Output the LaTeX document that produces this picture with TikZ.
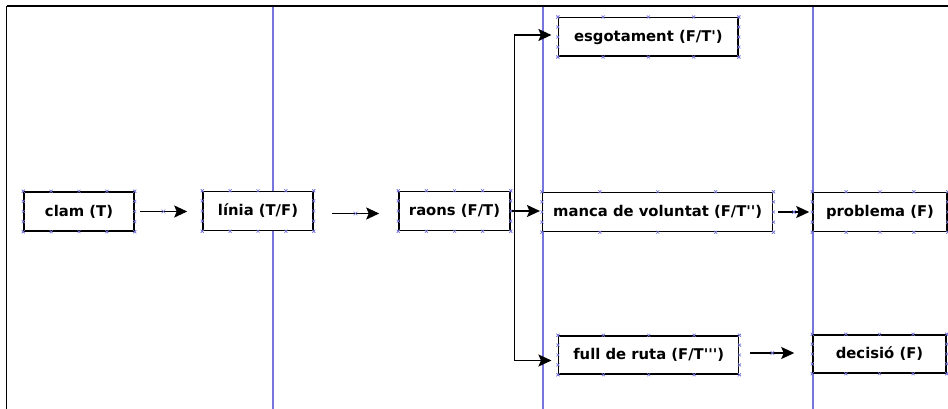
\documentclass[tikz,border=0pt]{standalone}
\usepackage{fontspec}
\setmainfont{DejaVu Sans}
\usetikzlibrary{
    positioning, % posicionamento relativo
    arrows.meta, % setas (Stealth)
    calc,        % pontos ao longo das arestas
    decorations.markings % cruz no meio das setas
}
\definecolor{guiaazul}{RGB}{118,118,220}

\begin{document}
\begin{tikzpicture}[x=1pt, y=-1pt]

    % --- Estilos ---
    \tikzset{
        % caixas das etapas
        caixa/.style={
            draw,
            fill=white,
            line width=1.5pt,
            minimum height=39pt,
            inner sep=2pt,
            text centered,
            font=\fontsize{14.8}{17}\selectfont\bfseries
        },
        % setas entre as caixas
        seta/.style={
            -{Stealth[length=13pt, width=12pt, inset=2.5pt]},
            line width=1.6pt
        },
        % pequenas cruzes dos pontos de ligação
        ponto/.style={
            -,
            draw=guiaazul,
            line width=0.6pt
        },
        % seta reta com ponto de ligação no meio
        meio/.style={
            postaction={decorate},
            decoration={markings,
                mark=at position 0.5 with {
                    \draw[ponto] (-1.8pt,-1.8pt) -- (1.8pt,1.8pt)
                                 (-1.8pt,1.8pt) -- (1.8pt,-1.8pt);
                }
            }
        },
        % linhas-guia verticais (azuis)
        guia/.style={
            draw=guiaazul,
            line width=1.1pt
        }
    }

    % --- Fundo e moldura ---
    \path[fill=white, use as bounding box] (0,0) rectangle (948,409);
    \draw[line width=2.6pt] (7,6) -- (948,6);
    \draw[line width=1.3pt] (6.5,6) -- (6.5,409);

    % --- Linhas-guia ---
    \draw[guia] (273,7) -- (273,409);
    \draw[guia] (543,7) -- (543,409);
    \draw[guia] (813,7) -- (813,409);

    % --- Nós ---
    \node[caixa, minimum width=110pt] (clam) at (79,211.5) {clam (T)};
    \node[caixa, minimum width=110pt] (linia) at (258,211) {línia (T/F)};
    \node[caixa, minimum width=111pt] (raons) at (454.5,211) {raons (F/T)};
    \node[caixa, minimum width=230pt] (manca) at (657.7,212)
        {manca de voluntat (F/T\textquotesingle\textquotesingle)};
    \node[caixa, minimum width=134pt] (problema) at (880,212) {problema (F)};
    \node[caixa, minimum width=179.5pt, minimum height=38.5pt] (esgot) at (648.4,37)
        {esgotament (F/T\textquotesingle)};
    \node[caixa, minimum width=180pt, minimum height=38pt] (full) at (648.7,355)
        {full de ruta (F/T\textquotesingle\textquotesingle\textquotesingle)};
    \node[caixa, minimum width=133pt, minimum height=38pt] (decisio) at (879.5,354)
        {decisió (F)};

    % ponto de ramificação depois de "raons"
    \coordinate (ramo) at (514.5,211);

    % --- Setas ---
    \draw[seta, meio] ([xshift=5pt]clam.east) -- ([xshift=-15pt]linia.west |- clam.east);
    \draw[seta, meio] ([xshift=18pt, yshift=-2.5pt]linia.east) -- ([xshift=-19pt, yshift=-2.5pt]raons.west);
    \draw[seta] (raons.east) -- ([xshift=-2pt]manca.west |- raons.east);
    \draw[seta] (ramo) |- ([xshift=-6.5pt, yshift=2pt]esgot.west);
    \draw[seta] (ramo) |- ([xshift=-6.5pt, yshift=-5.5pt]full.west);
    \draw[seta, meio] ([xshift=5pt]manca.east) -- ([xshift=-3pt]problema.west);
    \draw[seta, meio] ([xshift=11pt, yshift=2pt]full.east) -- ([xshift=-18pt, yshift=1pt]decisio.west);

    % --- Pontos de ligação (cruzes) ---
    \foreach \n in {clam, linia, raons, manca, problema, esgot, full, decisio} {
        \foreach \a/\b in {north west/north east, south west/south east,
                           north west/south west, north east/south east} {
            \foreach \f in {0, 0.25, 0.5, 0.75, 1} {
                \draw[ponto] ($(\n.\a)!\f!(\n.\b)$) +(-1.5,-1.5) -- +(1.5,1.5)
                                                    +(-1.5,1.5) -- +(1.5,-1.5);
            }
        }
    }

\end{tikzpicture}
\end{document}
